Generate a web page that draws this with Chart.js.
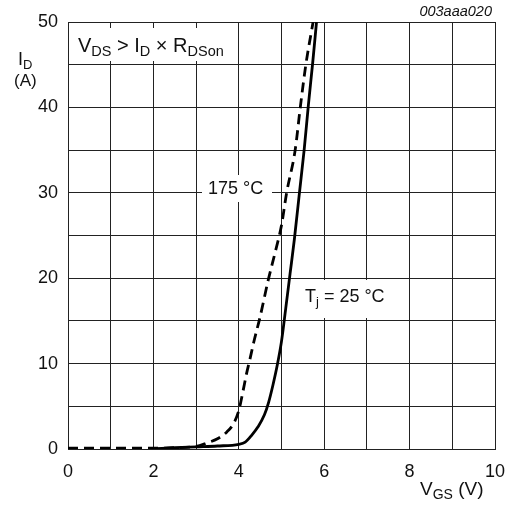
<!DOCTYPE html>
<html>
<head>
<meta charset="utf-8">
<script src="https://cdn.jsdelivr.net/npm/chart.js@4"></script>
<style>
html,body{margin:0;padding:0;background:#fff;}
#wrap{width:511px;height:505px;position:relative;}
</style>
</head>
<body>
<div id="wrap"><canvas id="c"></canvas></div>
<script>
// ---- data ----
const vgs25 = [2.05, 2.5, 3.0, 3.5, 4.0, 4.15, 4.3, 4.45, 4.6, 4.7, 4.8, 4.9, 5.0, 5.1, 5.2, 5.3, 5.42, 5.53, 5.63, 5.73, 5.82];
const id25  = [0.05, 0.15, 0.25, 0.35, 0.55, 0.8, 1.6, 2.6, 4.0, 5.5, 7.5, 9.8, 12.6, 16.5, 20.5, 24.5, 30, 35, 40.3, 45.2, 50];
const vgs175 = [0, 1, 2, 2.5, 3.0, 3.25, 3.5, 3.72, 3.88, 4.0, 4.1, 4.18, 4.26, 4.35, 4.5, 4.69, 4.85, 5.0, 5.12, 5.32, 5.44, 5.57, 5.74];
const id175  = [0.1, 0.1, 0.1, 0.15, 0.3, 0.7, 1.2, 2.0, 3.0, 4.5, 6.8, 8.8, 10.5, 12.5, 15.5, 19.8, 23.0, 26.2, 30, 35, 40, 45, 50];
const xTickLabels = [0, 2, 4, 6, 8, 10];
const yTickLabels = [0, 10, 20, 30, 40, 50];

const FONT = '"Liberation Sans", Arial, Helvetica, sans-serif';

function pts(xs, ys){ return xs.map((x,i)=>({x:x, y:ys[i]})); }

function drawRich(ctx, x, y, runs, size, subSize){
  let cx = x;
  ctx.textBaseline = 'alphabetic';
  ctx.textAlign = 'left';
  for (const r of runs){
    const s = r.sub ? subSize : size;
    ctx.font = s + 'px ' + FONT;
    ctx.fillText(r.t, cx, y + (r.sub ? 4 : 0));
    cx += ctx.measureText(r.t).width;
  }
  return cx - x;
}

const annot = {
  id: 'annot',
  beforeDatasetsDraw(chart){
    const ctx = chart.ctx;
    const xs = chart.scales.x;
    ctx.save();
    ctx.fillStyle = '#fff';
    ctx.fillRect(xs.left + 1, 28, 167, 33);
    ctx.fillRect(202, 175, 70, 27);
    ctx.fillRect(291, 280, 100, 38);
    ctx.restore();
  },
  afterDraw(chart){
    const ctx = chart.ctx;
    ctx.save();
    ctx.fillStyle = '#111';
    drawRich(ctx, 78, 52, [
      {t:'V'},{t:'DS',sub:true},{t:' > I'},{t:'D',sub:true},{t:' \u00d7 R'},{t:'DSon',sub:true}
    ], 20, 14.5);
    ctx.font = '18px ' + FONT;
    ctx.textBaseline = 'middle';
    ctx.textAlign = 'left';
    ctx.fillText('175 \u00b0C', 208, 189);
    drawRich(ctx, 305, 302, [{t:'T'},{t:'j',sub:true},{t:' = 25 \u00b0C'}], 18, 13);
    drawRich(ctx, 18, 65, [{t:'I'},{t:'D',sub:true}], 18, 13);
    ctx.font = '17px ' + FONT;
    ctx.textBaseline = 'alphabetic';
    ctx.fillText('(A)', 14, 86);
    drawRich(ctx, 420, 495, [{t:'V'},{t:'GS',sub:true},{t:' (V)'}], 19, 14);
    ctx.font = 'italic 14.5px ' + FONT;
    ctx.textAlign = 'right';
    ctx.fillText('003aaa020', 492, 16);
    ctx.restore();
  }
};

new Chart(document.getElementById('c'), {
  type: 'scatter',
  data: {
    datasets: [
      {
        label: 'Tj = 25 °C',
        data: pts(vgs25, id25),
        showLine: true,
        borderColor: '#000',
        borderWidth: 2.8,
        pointRadius: 0,
        cubicInterpolationMode: 'monotone',
        fill: false
      },
      {
        label: '175 °C',
        data: pts(vgs175, id175),
        showLine: true,
        borderColor: '#000',
        borderWidth: 2.8,
        borderDash: [10, 6],
        pointRadius: 0,
        cubicInterpolationMode: 'monotone',
        fill: false
      }
    ]
  },
  options: {
    responsive: true,
    maintainAspectRatio: false,
    animation: false,
    layout: { padding: { top: 22, right: 16, left: 0, bottom: 0 } },
    plugins: { legend: { display: false }, tooltip: { enabled: false } },
    scales: {
      x: {
        type: 'linear', min: 0, max: 10,
        afterFit(s){ s.height = 56; s.paddingRight = 0; s.paddingLeft = 0; },
        ticks: {
          stepSize: 1, autoSkip: false, maxRotation: 0, padding: 12,
          color: '#111', font: { family: FONT, size: 18 },
          callback: v => xTickLabels.includes(v) ? String(v) : ''
        },
        grid: { color: '#222', lineWidth: 1, drawTicks: false },
        border: { color: '#222', width: 1 }
      },
      y: {
        type: 'linear', min: 0, max: 50,
        afterFit(s){ s.width = 68; },
        ticks: {
          stepSize: 5, autoSkip: false, padding: 10,
          color: '#111', font: { family: FONT, size: 18 },
          callback: v => yTickLabels.includes(v) ? String(v) : ''
        },
        grid: { color: '#222', lineWidth: 1, drawTicks: false },
        border: { color: '#222', width: 1 }
      }
    }
  },
  plugins: [annot]
});
</script>
</body>
</html>
